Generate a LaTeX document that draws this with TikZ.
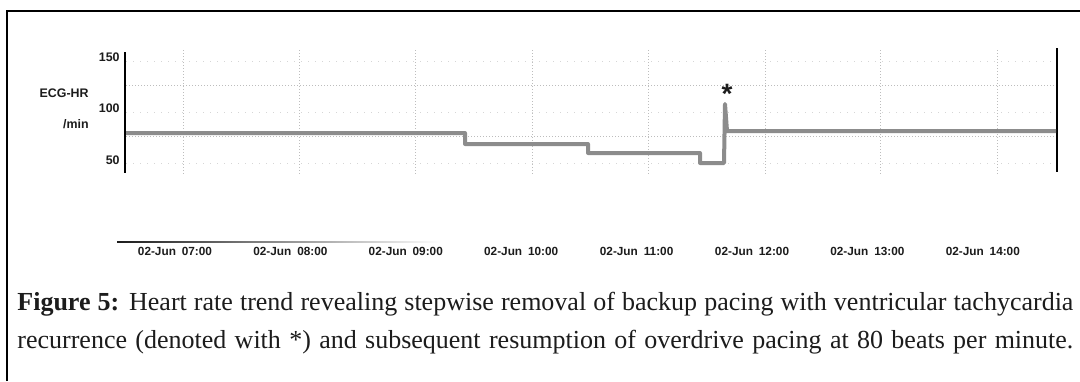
\documentclass[tikz,border=0pt]{standalone}
\usepackage{fontspec}
\setmainfont{Liberation Serif}
\setsansfont{Liberation Sans}
\usetikzlibrary{positioning}
\definecolor{Ink}{HTML}{1C1C1C}
\definecolor{Trace}{HTML}{8C8C8C}
\definecolor{GridDot}{HTML}{BDBDBD}
\definecolor{GridSoft}{HTML}{D6D6D6}

\begin{document}
\begin{tikzpicture}[x=0.5pt,y=-0.5pt,every node/.style={inner sep=0pt,text=Ink},ticklab/.style={font=\sffamily\bfseries\fontsize{6.2}{7}\selectfont,anchor=east},timelab/.style={font=\sffamily\bfseries\fontsize{5.9}{7}\selectfont,anchor=base},grid/.style={GridDot,dash pattern=on .6pt off .9pt,line width=.5pt},softgrid/.style={GridSoft,dash pattern=on .5pt off 3pt,line width=.5pt},trace/.style={Trace,line width=2pt,line join=round},capline/.style={font=\fontsize{13}{15}\selectfont,anchor=base west}]
\useasboundingbox (0,0) rectangle (1080,381);
\fill[white] (0,0) rectangle (1080,381);
\draw[line width=1.1pt] (7,381) -- (7,11) -- (1080,11);
% grid
\foreach \gy in {85,136} \draw[grid] (126,\gy) -- (1056,\gy);
\foreach \gy in {61,112,163} \draw[softgrid] (126,\gy) -- (1056,\gy);
\foreach \gx in {183,299,415,532,648,765,880,997} \draw[grid] (\gx,50) -- (\gx,175);
% axes
\draw[line width=1.1pt] (125,52) -- (125,173);
\draw[line width=1.1pt] (1057,48) -- (1057,172);
\node[ticklab] (t150) at (120,57) {150};
\node[ticklab] (t100) at (120,108) {100};
\node[ticklab] (t50) at (120,160) {50};
\node[ticklab] (hr) at (89,93) {ECG-HR};
\node[ticklab] (unit) at (89,124) {/min};
% heart rate trace
\draw[trace] (126,133) -- (465,133) -- (465,144) -- (588,144) -- (588,153) -- (700,153) -- (700,163) -- (724,163) -- (725,104) -- (727,131) -- (1056,131);
\node[font=\sffamily\bfseries\fontsize{14}{14}\selectfont] (vt) at (727,94) {*};
% time axis
\fill[left color=Ink,right color=white] (117,241.4) rectangle (440,242.6);
\foreach \hh [count=\i from 0] in {07,08,09,10,11,12,13,14}
  \node[timelab] (h\hh) at (175+115.4*\i,255) {02-Jun\enspace\hh:00};
% caption
\node[capline] (cap1) at (17,310) {\hbox to 528pt{\textbf{Figure 5:} Heart rate trend revealing stepwise removal of backup pacing with ventricular tachycardia}};
\node[capline] (cap2) at (17,348) {\hbox to 528pt{recurrence (denoted with *) and subsequent resumption of overdrive pacing at 80 beats per minute.}};
\end{tikzpicture}
\end{document}
